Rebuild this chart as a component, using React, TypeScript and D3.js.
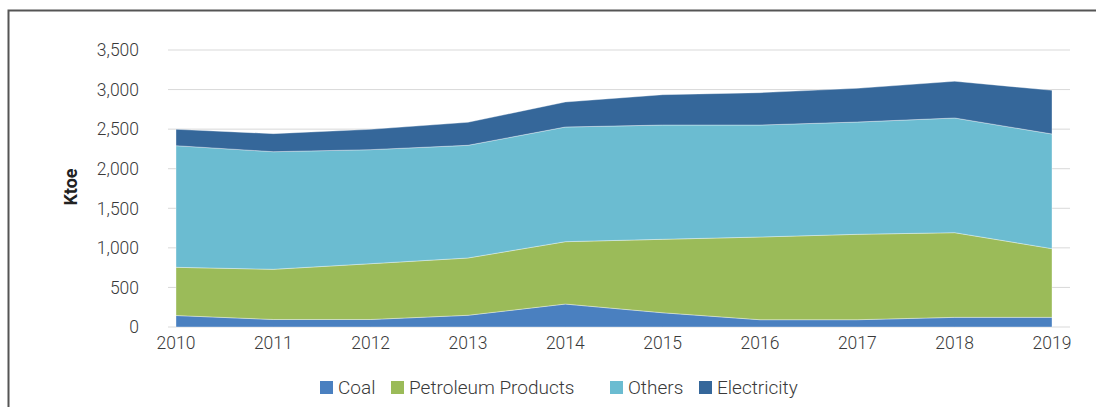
import React from "react";
import * as d3 from "d3";

// Final energy consumption by fuel, Ktoe
const years = [2010, 2011, 2012, 2013, 2014, 2015, 2016, 2017, 2018, 2019];
const coal = [145, 95, 95, 148, 290, 180, 92, 92, 122, 122];
const petroleum = [609, 634, 705, 724, 788, 928, 1045, 1079, 1070, 868];
const others = [1537, 1486, 1441, 1424, 1449, 1444, 1415, 1419, 1449, 1449];
const electricity = [207, 228, 257, 291, 316, 383, 409, 426, 464, 552];
const seriesNames = ["Coal", "Petroleum Products", "Others", "Electricity"];
const yTicks = [0, 500, 1000, 1500, 2000, 2500, 3000, 3500];

const colors = ["#4a80c0", "#9bbb59", "#6bbcd1", "#35679a"];
const legendX = [320, 391, 610, 699];

const width = 1096;
const height = 407;
const font = "Roboto, 'Noto Sans', sans-serif";

export default function App() {
  const x = d3.scaleLinear().domain([2010, 2019]).range([176, 1052]);
  const y = d3.scaleLinear().domain([0, 3500]).range([327, 50]);

  const rows = years.map((yr, i) => ({
    year: yr,
    Coal: coal[i],
    "Petroleum Products": petroleum[i],
    Others: others[i],
    Electricity: electricity[i],
  }));
  const stacked = d3.stack<any>().keys(seriesNames)(rows);

  const area = d3
    .area<any>()
    .x((d) => x(d.data.year))
    .y0((d) => y(d[0]))
    .y1((d) => y(d[1]));

  const fmt = d3.format(",");

  return (
    <svg
      width={width}
      height={height}
      style={{ position: "absolute", left: 0, top: 0, background: "#fff" }}
    >
      {/* frame */}
      <path d={`M8.5,${height} V10.5 H${width}`} fill="none" stroke="#555" strokeWidth={2} />

      {/* gridlines */}
      {yTicks.map((t) => (
        <line key={t} x1={168} x2={1070} y1={y(t)} y2={y(t)} stroke="#d9d9d9" strokeWidth={1} />
      ))}

      {/* areas */}
      {stacked.map((s, i) => (
        <path
          key={s.key}
          d={area(s) || ""}
          fill={colors[i]}
          stroke="#ffffff"
          strokeOpacity={0.45}
          strokeWidth={0.8}
        />
      ))}

      {/* y tick labels */}
      {yTicks.map((t) => (
        <text
          key={t}
          x={139}
          y={y(t)}
          dy="0.36em"
          textAnchor="end"
          fontFamily={font}
          fontSize={17.5}
          fontWeight={300}
          fill="#3a3a3a"
        >
          {fmt(t)}
        </text>
      ))}

      {/* x tick labels */}
      {years.map((yr) => (
        <text
          key={yr}
          x={x(yr)}
          y={343}
          dy="0.36em"
          textAnchor="middle"
          fontFamily={font}
          fontSize={17.5}
          fontWeight={300}
          fill="#3a3a3a"
        >
          {yr}
        </text>
      ))}

      {/* y axis title */}
      <text
        transform="translate(77,187) rotate(-90)"
        textAnchor="middle"
        fontFamily={font}
        fontSize={18}
        fontWeight="bold"
        fill="#222"
      >
        Ktoe
      </text>

      {/* legend */}
      {seriesNames.map((name, i) => (
        <g key={name} transform={`translate(${legendX[i]},381)`}>
          <rect width={13} height={13} fill={colors[i]} />
          <text
            x={18}
            y={6.5}
            dy="0.36em"
            fontFamily={font}
            fontSize={19}
            fontWeight={300}
            fill="#3a3a3a"
          >
            {name}
          </text>
        </g>
      ))}
    </svg>
  );
}
